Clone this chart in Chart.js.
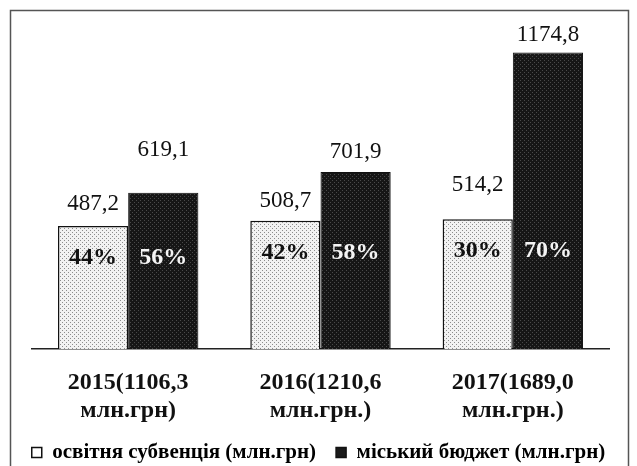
<!DOCTYPE html>
<html>
<head>
<meta charset="utf-8">
<script src="https://cdn.jsdelivr.net/npm/chart.js@4/dist/chart.umd.min.js"></script>
<style>
  html, body { margin: 0; padding: 0; background: #fff; }
  #wrap { position: relative; width: 637px; height: 466px; }
</style>
</head>
<body>
<div id="wrap"><canvas id="chart" width="637" height="466"></canvas></div>
<script>
// --- data ---
const categories = [
    ['2015(1106,3', 'млн.грн)'],
    ['2016(1210,6', 'млн.грн.)'],
    ['2017(1689,0', 'млн.грн.)']
];
const seriesNames = ['освітня субвенція (млн.грн)', 'міський бюджет (млн.грн)'];
const subvention = [487.2, 508.7, 514.2];
const cityBudget = [619.1, 701.9, 1174.8];
const subventionPct = ['44%', '42%', '30%'];
const cityBudgetPct = ['56%', '58%', '70%'];

const SERIF = '"Liberation Serif", "Times New Roman", serif';

// stipple fills like the scanned print
const makePattern = (bg, dot) => {
    const c = document.createElement('canvas');
    c.width = 4; c.height = 4;
    const x = c.getContext('2d');
    x.fillStyle = bg; x.fillRect(0, 0, 4, 4);
    x.fillStyle = dot;
    x.fillRect(0, 0, 1, 1);
    x.fillRect(2, 2, 1, 1);
    return x.createPattern(c, 'repeat');
};
const ctx = document.getElementById('chart').getContext('2d');
const lightFill = makePattern('#f2f2f2', '#8c8c8c');
const darkFill = makePattern('#161616', '#4a4a4a');

// value label lift above each bar (px), per series
const valueLift = [[22, 20, 34], [43, 20, 18]];

const labelsPlugin = {
    id: 'barLabels',
    afterDatasetsDraw(chart) {
        const c = chart.ctx;
        const m0 = chart.getDatasetMeta(0).data;
        const m1 = chart.getDatasetMeta(1).data;
        c.save();
        c.textAlign = 'center';
        c.textBaseline = 'middle';
        // values above
        c.font = '23px ' + SERIF;
        c.fillStyle = '#111';
        [m0, m1].forEach((bars, s) => {
            const vals = s === 0 ? subvention : cityBudget;
            bars.forEach((b, i) => {
                c.fillText(vals[i].toFixed(1).replace('.', ','), b.x, b.y - valueLift[s][i]);
            });
        });
        // percentages inside
        c.font = 'bold 24px ' + SERIF;
        m0.forEach((b, i) => {
            const y = b.y + 32;
            c.fillStyle = '#111';
            c.fillText(subventionPct[i], b.x, y);
            c.fillStyle = '#f4f4f4';
            c.fillText(cityBudgetPct[i], m1[i].x, y);
        });
        c.restore();
    }
};

const framePlugin = {
    id: 'frame',
    beforeDraw(chart) {
        const c = chart.ctx;
        c.save();
        c.fillStyle = '#fff';
        c.fillRect(0, 0, chart.width, chart.height);
        c.strokeStyle = '#555';
        c.lineWidth = 1.5;
        c.beginPath();
        c.moveTo(10.5, 466);
        c.lineTo(10.5, 10.5);
        c.lineTo(628.5, 10.5);
        c.lineTo(628.5, 466);
        c.stroke();
        c.restore();
    }
};

// invisible side axes only reserve room left/right of the plot
const spacer = (pos, w) => ({
    position: pos,
    display: true,
    min: 0,
    max: 1300,
    ticks: { display: false },
    grid: { display: false, drawTicks: false },
    border: { display: false },
    afterFit: (s) => { s.width = w; }
});

new Chart(ctx, {
    type: 'bar',
    data: {
        labels: categories,
        datasets: [
            {
                label: seriesNames[0],
                data: subvention,
                backgroundColor: lightFill,
                borderColor: '#111',
                borderWidth: 1.5,
                borderSkipped: 'bottom'
            },
            {
                label: seriesNames[1],
                data: cityBudget,
                backgroundColor: darkFill,
                borderColor: '#111',
                borderWidth: 1,
                borderSkipped: 'bottom'
            }
        ]
    },
    options: {
        responsive: false,
        animation: false,
        devicePixelRatio: 1,
        layout: { padding: { left: 0, right: 0, top: 21, bottom: -7 } },
        datasets: { bar: { categoryPercentage: 0.73, barPercentage: 1 } },
        plugins: {
            legend: {
                position: 'bottom',
                labels: {
                    color: '#111',
                    font: { family: SERIF, size: 21, weight: 'bold' },
                    boxWidth: 10,
                    boxHeight: 10,
                    padding: 20,
                    generateLabels: () => [
                        { text: seriesNames[0], fillStyle: '#fff', strokeStyle: '#111', lineWidth: 1.5, datasetIndex: 0 },
                        { text: seriesNames[1], fillStyle: '#1a1a1a', strokeStyle: '#111', lineWidth: 1.5, datasetIndex: 1 }
                    ]
                }
            },
            tooltip: { enabled: false }
        },
        scales: {
            x: {
                grid: { display: false, drawTicks: false },
                border: { display: true, color: '#222', width: 1.5 },
                ticks: {
                    color: '#111',
                    padding: 20,
                    font: { family: SERIF, size: 24, weight: 'bold', lineHeight: 1.17 }
                },
                afterFit: (scale) => { scale.height = 73; }
            },
            y: spacer('left', 32),
            yRight: spacer('right', 28)
        }
    },
    plugins: [framePlugin, labelsPlugin]
});
</script>
</body>
</html>
